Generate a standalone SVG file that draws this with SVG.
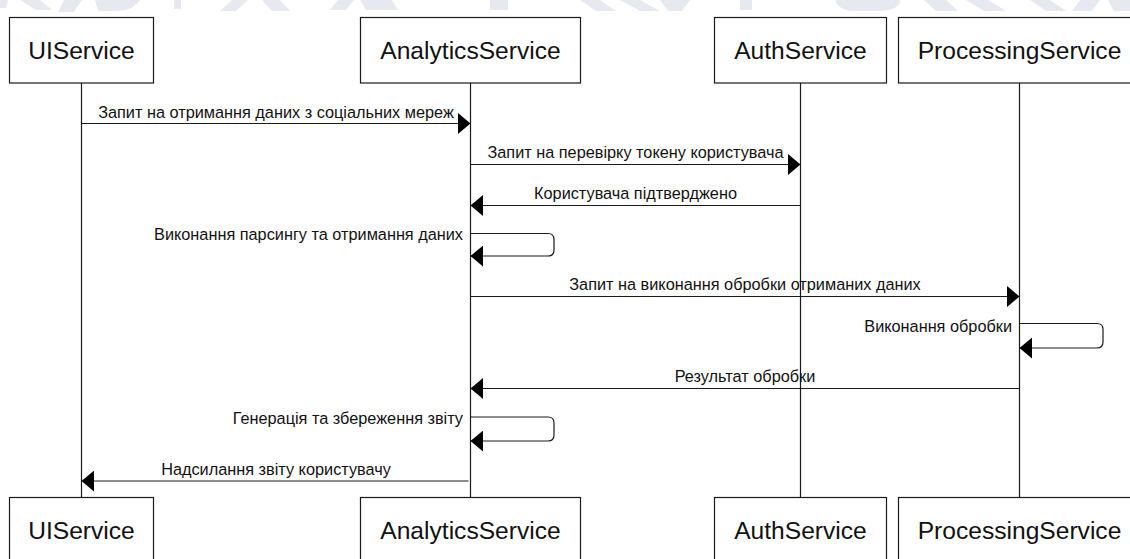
<svg xmlns="http://www.w3.org/2000/svg" width="1130" height="559" viewBox="0 0 1130 559">
  <style>
    .box { fill: #ffffff; stroke: #1a1a1a; stroke-width: 1.2; }
    .title { font-family: "Liberation Sans", Arial, sans-serif; font-size: 24.6px; fill: #111111; text-anchor: middle; }
    .life { stroke: #1a1a1a; stroke-width: 1.2; fill: none; }
    .msg { stroke: #1a1a1a; stroke-width: 1.2; fill: none; marker-end: url(#head); }
    .lbl { font-family: "Liberation Sans", Arial, sans-serif; font-size: 16.3px; fill: #111111; text-anchor: middle; }
    .lbl-r { text-anchor: end; }
    .wm { fill: #e6eaf0; }
  </style>
  <defs>
    <marker id="head" markerUnits="userSpaceOnUse" markerWidth="13" markerHeight="21" viewBox="0 0 12 20" refX="12" refY="10" orient="auto">
      <path d="M0,0 L12,10 L0,20 Z" fill="#000000"/>
    </marker>
  </defs>

  <rect width="1130" height="559" fill="#ffffff"/>

  <!-- faint background lettering along the top edge -->
  <g id="backdrop">
    <polygon class="wm" points="0,0 8,0 6,8 0,8"/>
    <polygon class="wm" points="20,0 40,0 52,10 36,10"/>
    <polygon class="wm" points="64,0 82,0 74,12 58,12"/>
    <path class="wm" d="M95,0 H140 Q134,10 118,11 H98 Z"/>
    <polygon class="wm" points="174,0 181,0 181,9 174,9"/>
    <polygon class="wm" points="232,0 248,0 236,11 220,11"/>
    <polygon class="wm" points="262,0 280,0 290,11 272,11"/>
    <polygon class="wm" points="338,0 354,0 346,10 330,10"/>
    <polygon class="wm" points="360,0 392,0 398,10 366,10"/>
    <polygon class="wm" points="490,0 508,0 508,10 490,10"/>
    <polygon class="wm" points="580,0 600,0 616,11 596,11"/>
    <polygon class="wm" points="620,0 640,0 660,11 640,11"/>
    <polygon class="wm" points="660,0 690,0 682,11 668,11"/>
    <polygon class="wm" points="740,0 752,0 752,10 740,10"/>
    <path class="wm" d="M836,0 H900 Q900,10 880,11 H850 Q836,8 836,0 Z"/>
    <polygon class="wm" points="924,0 946,0 958,11 936,11"/>
    <polygon class="wm" points="966,0 988,0 1006,11 984,11"/>
    <polygon class="wm" points="1030,0 1050,0 1066,11 1046,11"/>
    <polygon class="wm" points="1080,0 1100,0 1092,11 1072,11"/>
    <polygon class="wm" points="1108,0 1130,0 1130,11 1114,11"/>
  </g>

  <!-- lifelines and messages -->
  <g id="connectors">
    <line class="life" x1="81.5" y1="83" x2="81.5" y2="497.5"/>
    <line class="life" x1="470.5" y1="83" x2="470.5" y2="497.5"/>
    <line class="life" x1="800.5" y1="83" x2="800.5" y2="497.5"/>
    <line class="life" x1="1019.5" y1="83" x2="1019.5" y2="497.5"/>

    <path class="msg" d="M81.5,123.5 H470.5"/>
    <path class="msg" d="M470.5,164.5 H800.5"/>
    <path class="msg" d="M800.5,205.5 H470.5"/>
    <path class="msg" d="M470.5,233.5 H548 Q554,233.5 554,239.5 V250 Q554,256 548,256 H470.5"/>
    <path class="msg" d="M470.5,296.5 H1019.5"/>
    <path class="msg" d="M1019.5,323.5 H1097 Q1103,323.5 1103,329.5 V342 Q1103,348 1097,348 H1019.5"/>
    <path class="msg" d="M1019.5,388.5 H470.5"/>
    <path class="msg" d="M470.5,417 H548 Q554,417 554,423 V435 Q554,441 548,441 H470.5"/>
    <path class="msg" d="M468.5,481 H81.5"/>

    <text class="lbl" x="276" y="118">Запит на отримання даних з соціальних мереж</text>
    <text class="lbl" x="635.5" y="158">Запит на перевірку токену користувача</text>
    <text class="lbl" x="635.5" y="199">Користувача підтверджено</text>
    <text class="lbl lbl-r" x="463" y="240">Виконання парсингу та отримання даних</text>
    <text class="lbl" x="745" y="290">Запит на виконання обробки отриманих даних</text>
    <text class="lbl lbl-r" x="1012" y="332">Виконання обробки</text>
    <text class="lbl" x="745" y="382">Результат обробки</text>
    <text class="lbl lbl-r" x="463" y="424">Генерація та збереження звіту</text>
    <text class="lbl" x="276" y="475">Надсилання звіту користувачу</text>
  </g>

  <!-- participants, top row -->
  <g id="ui-top">
    <rect class="box" x="9.5" y="17.5" width="144" height="65.5"/>
    <text class="title" x="81.5" y="59">UIService</text>
  </g>
  <g id="analytics-top">
    <rect class="box" x="360.5" y="17.5" width="220" height="65.5"/>
    <text class="title" x="470.5" y="59">AnalyticsService</text>
  </g>
  <g id="auth-top">
    <rect class="box" x="714.5" y="17.5" width="172" height="65.5"/>
    <text class="title" x="800.5" y="59">AuthService</text>
  </g>
  <g id="processing-top">
    <rect class="box" x="898.5" y="17.5" width="242" height="65.5"/>
    <text class="title" x="1019.5" y="59">ProcessingService</text>
  </g>

  <!-- participants, bottom row -->
  <g id="ui-bottom">
    <rect class="box" x="9.5" y="497.5" width="144" height="65.5"/>
    <text class="title" x="81.5" y="539">UIService</text>
  </g>
  <g id="analytics-bottom">
    <rect class="box" x="360.5" y="497.5" width="220" height="65.5"/>
    <text class="title" x="470.5" y="539">AnalyticsService</text>
  </g>
  <g id="auth-bottom">
    <rect class="box" x="714.5" y="497.5" width="172" height="65.5"/>
    <text class="title" x="800.5" y="539">AuthService</text>
  </g>
  <g id="processing-bottom">
    <rect class="box" x="898.5" y="497.5" width="242" height="65.5"/>
    <text class="title" x="1019.5" y="539">ProcessingService</text>
  </g>
</svg>
